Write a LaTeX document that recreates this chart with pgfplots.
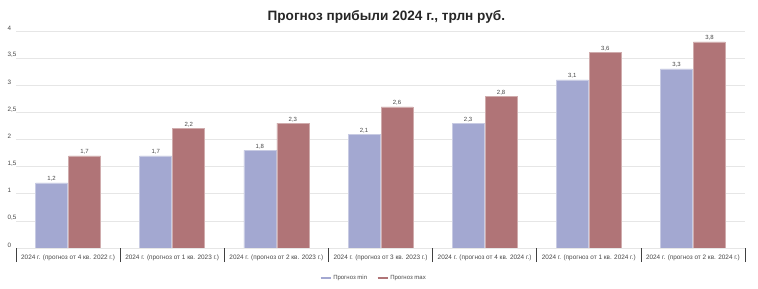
\documentclass[border=0pt]{standalone}
\usepackage{pgfplots}
\pgfplotsset{compat=1.18}
\usepackage{fontspec}
\setmainfont{Liberation Sans}
\definecolor{minc}{RGB}{163,168,209}
\definecolor{maxc}{RGB}{176,116,119}
\definecolor{gridc}{RGB}{230,230,230}
\definecolor{txtc}{RGB}{70,70,70}
\begin{document}
\begin{tikzpicture}
\useasboundingbox (-16pt,-41pt) rectangle (742pt,248pt);
\begin{axis}[
  scale only axis, width=729pt, height=217pt,
  xmin=-0.5, xmax=6.5, ymin=0, ymax=4,
  enlargelimits=false,
  axis line style={draw=none},
  ybar, bar width=32pt,
  ytick={0,0.5,...,4},
  ymajorgrids, grid style={gridc, line width=0.6pt},
  major tick length=0pt,
  xtick pos=bottom,
  /pgf/number format/assume math mode=true,
  /pgf/number format/use comma,
  yticklabel style={font=\fontsize{6.3}{7}\selectfont, text=txtc, anchor=west, xshift=-12pt, yshift=3pt},
  xtick={0,...,6},
  xticklabels={
    {2024 г. (прогноз от 4 кв. 2022 г.)},
    {2024 г. (прогноз от 1 кв. 2023 г.)},
    {2024 г. (прогноз от 2 кв. 2023 г.)},
    {2024 г. (прогноз от 3 кв. 2023 г.)},
    {2024 г. (прогноз от 4 кв. 2024 г.)},
    {2024 г. (прогноз от 1 кв. 2024 г.)},
    {2024 г. (прогноз от 2 кв. 2024 г.)}},
  xticklabel style={font=\fontsize{6.4}{7}\selectfont, text=txtc, yshift=-3pt},
  extra x ticks={-0.5,0.5,...,6.5},
  extra x tick labels={},
  extra x tick style={major tick length=14pt, tick align=outside, xtick pos=bottom, tick style={draw=black!75, line width=0.6pt}, grid=none},
  nodes near coords,
  nodes near coords style={font=\fontsize{6}{7}\selectfont, text=txtc, inner sep=1pt, /pgf/number format/use comma, /pgf/number format/fixed, /pgf/number format/precision=1},
  title={\bfseries Прогноз прибыли 2024 г., трлн руб.},
  title style={font=\fontsize{13.6}{15}\selectfont, text=black!85, at={(0.508,1)}, anchor=center, yshift=8pt},
  legend style={at={(0.491,0)}, anchor=center, yshift=-30pt, draw=none, fill=none, legend columns=2, font=\fontsize{6}{7}\selectfont, text=txtc, /tikz/every even column/.append style={column sep=8pt}},
  legend cell align=left,
]
\addplot[fill=minc, draw=minc!60!white, line width=0.5pt, bar shift=-16.5pt, forget plot] coordinates {(0,1.2) (1,1.7) (2,1.8) (3,2.1) (4,2.3) (5,3.1) (6,3.3)};
\addplot[fill=maxc, draw=maxc!60!white, line width=0.5pt, bar shift=16.5pt, forget plot] coordinates {(0,1.7) (1,2.2) (2,2.3) (3,2.6) (4,2.8) (5,3.6) (6,3.8)};
\addlegendimage{legend image code/.code={\draw[minc, line width=1.2pt] (0pt,0pt) -- (10pt,0pt);}}
\addlegendentry{Прогноз min}
\addlegendimage{legend image code/.code={\draw[maxc, line width=1.2pt] (0pt,0pt) -- (10pt,0pt);}}
\addlegendentry{Прогноз max}
\draw[black!75, line width=0.7pt] ([xshift=-9pt]rel axis cs:0,0) -- (rel axis cs:1,0);
\end{axis}
\end{tikzpicture}
\end{document}
